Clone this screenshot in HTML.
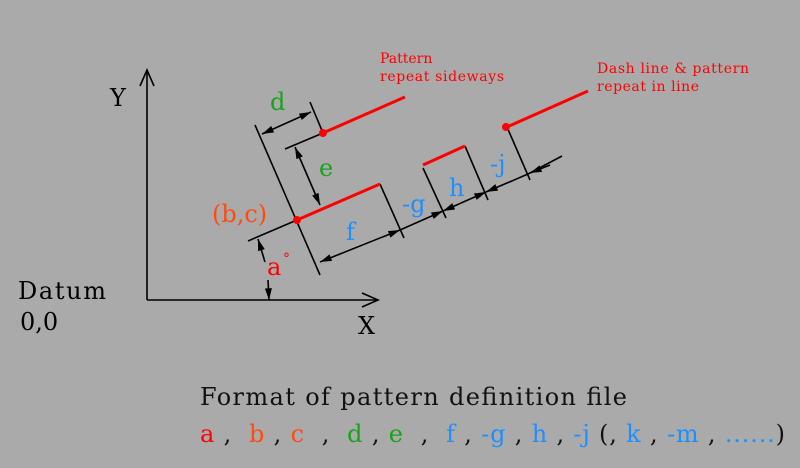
<!DOCTYPE html>
<html><head><meta charset="utf-8"><style>
html,body{margin:0;padding:0;background:#aaaaaa;}
svg{display:block;}
text{font-family:"DejaVu Serif","Liberation Serif",serif;}
</style></head><body>
<svg width="800" height="468" viewBox="0 0 800 468" xmlns="http://www.w3.org/2000/svg">
<defs>
<marker id="ar" viewBox="0 0 10 6" refX="10" refY="3" markerWidth="16" markerHeight="7" markerUnits="userSpaceOnUse" orient="auto-start-reverse">
<path d="M0,0 L10,3 L0,6 Z" fill="#000"/>
</marker>
</defs>
<rect width="800" height="468" fill="#aaaaaa"/>
<g stroke="#000" stroke-width="1.6" fill="none">
<line x1="147" y1="70" x2="147" y2="300"/>
<line x1="147" y1="300" x2="378" y2="300"/>
<polyline points="140,86 147,70 154,86"/>
<polyline points="362,293 378,300 362,307"/>
<line x1="248" y1="241" x2="297" y2="220"/>
<line x1="255" y1="125" x2="320" y2="275"/>
<line x1="310" y1="102" x2="323" y2="133"/>
<line x1="285" y1="149" x2="323" y2="133"/>
<line x1="380" y1="184" x2="404" y2="238"/>
<line x1="423" y1="168" x2="446" y2="218"/>
<line x1="465" y1="146" x2="488" y2="200"/>
<line x1="507" y1="127" x2="530" y2="180"/>
<line x1="262" y1="134" x2="311" y2="112" marker-start="url(#ar)" marker-end="url(#ar)"/>
<line x1="295" y1="147" x2="320" y2="205" marker-start="url(#ar)" marker-end="url(#ar)"/>
<line x1="320" y1="262" x2="400" y2="230" marker-start="url(#ar)" marker-end="url(#ar)"/>
<line x1="400" y1="230" x2="443" y2="211" marker-end="url(#ar)"/>
<line x1="443" y1="211" x2="486" y2="192" marker-start="url(#ar)" marker-end="url(#ar)"/>
<line x1="486" y1="192" x2="528" y2="174" marker-start="url(#ar)"/>
<line x1="528" y1="174" x2="562" y2="156"/>
<line x1="530" y1="173" x2="550" y2="165" marker-start="url(#ar)"/>
<line x1="265" y1="262" x2="258" y2="239" marker-end="url(#ar)"/>
<line x1="268" y1="280" x2="269" y2="300" marker-end="url(#ar)"/>
</g>
<g stroke="#ff0000" stroke-width="3">
<line x1="297" y1="220" x2="380" y2="184"/>
<line x1="323" y1="133" x2="405" y2="97"/>
<line x1="507" y1="127" x2="588" y2="91"/>
<line x1="423" y1="165" x2="465" y2="146"/>
</g>
<g fill="#ff0000"><circle cx="297" cy="220" r="4"/><circle cx="323" cy="133" r="4"/><circle cx="506" cy="127" r="4"/></g>
<g font-size="24">
<text x="110" y="106" fill="#000">Y</text>
<text x="358" y="334" fill="#000">X</text>
<text x="18" y="299" fill="#000" textLength="88">Datum</text>
<text x="20" y="330" fill="#000">0,0</text>
<text x="270" y="110" fill="#19a319">d</text>
<text x="319" y="176" fill="#19a319">e</text>
<text x="212" y="222" fill="#ff4a10">(b,c)</text>
<text x="267" y="275" fill="#ff0000">a</text>
<text x="346" y="240" fill="#1e8fff">f</text>
<text x="402" y="212" fill="#1e8fff">-g</text>
<text x="449" y="196" fill="#1e8fff">h</text>
<text x="490" y="172" fill="#1e8fff">-j</text>
</g>
<text x="283" y="263" font-size="14" fill="#ff0000">°</text>
<g font-size="14" fill="#ff0000" font-weight="bold">
<text x="380" y="63" font-weight="normal">Pattern</text>
<text x="380" y="81" font-weight="normal" textLength="124">repeat sideways</text>
<text x="597" y="73" font-weight="normal" textLength="152">Dash line &amp; pattern</text>
<text x="597" y="91" font-weight="normal" textLength="102">repeat in line</text>
</g>
<text x="200" y="405" font-size="24" fill="#111" textLength="427">Format of pattern definition file</text>
<text x="200" y="442" font-size="24" xml:space="preserve" textLength="585"><tspan fill="#ff0000">a</tspan><tspan fill="#111"> ,  </tspan><tspan fill="#ff4a10">b</tspan><tspan fill="#111"> , </tspan><tspan fill="#ff4a10">c</tspan><tspan fill="#111">  ,  </tspan><tspan fill="#19a319">d</tspan><tspan fill="#111"> , </tspan><tspan fill="#19a319">e</tspan><tspan fill="#111">  ,  </tspan><tspan fill="#1e8fff">f</tspan><tspan fill="#111"> , </tspan><tspan fill="#1e8fff">-g</tspan><tspan fill="#111"> , </tspan><tspan fill="#1e8fff">h</tspan><tspan fill="#111"> , </tspan><tspan fill="#1e8fff">-j</tspan><tspan fill="#111"> (, </tspan><tspan fill="#1e8fff">k</tspan><tspan fill="#111"> , </tspan><tspan fill="#1e8fff">-m</tspan><tspan fill="#111"> , </tspan><tspan fill="#1e8fff">......</tspan><tspan fill="#111">)</tspan></text>
</svg>
</body></html>
